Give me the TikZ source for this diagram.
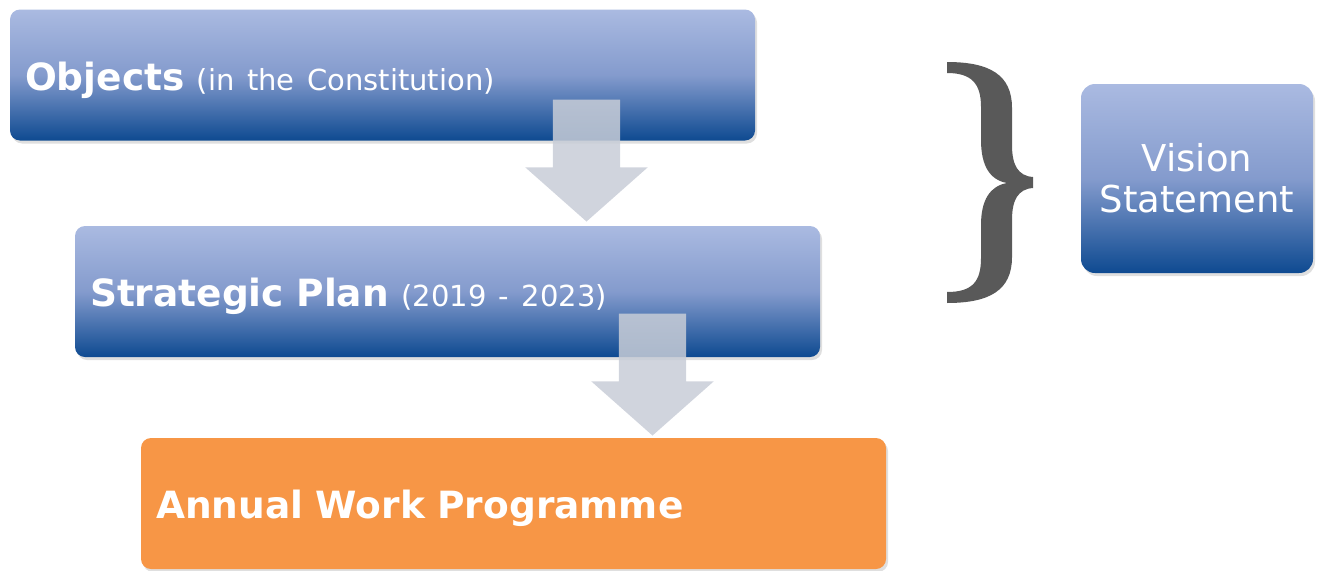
\documentclass[tikz,border=0pt]{standalone}
\usepackage{fontspec}
\setmainfont{DejaVu Sans}
\usepackage{tikz}
\usetikzlibrary{positioning, shapes.arrows, shadows}
\definecolor{BoxTop}{RGB}{170,186,225}
\definecolor{BoxMid}{RGB}{132,155,205}
\definecolor{BoxBottom}{RGB}{14,74,145}
\definecolor{WorkColor}{RGB}{247,150,70}
\definecolor{FlowColor}{RGB}{200,205,215}
\definecolor{BraceColor}{RGB}{89,89,89}
\newcommand{\subtext}[1]{{\fontsize{29}{34}\selectfont #1}}
\tikzstyle{boxshadow} = [drop shadow={opacity=0.25, shadow xshift=2pt, shadow yshift=-3pt}]
\tikzset{
  stage/.style={rectangle, rounded corners=10pt, minimum width=745pt, minimum height=131pt, text width=715pt, inner xsep=15pt, text height=30pt, text depth=0pt, align=left, text=white, font=\fontsize{37.5}{42}\selectfont, boxshadow},
  blue stage/.style={stage, top color=BoxTop, bottom color=BoxBottom, middle color=BoxMid},
  work stage/.style={stage, fill=WorkColor},
  vision/.style={rectangle, rounded corners=14pt, minimum width=232pt, minimum height=189pt, align=center, text=white, font=\fontsize{37}{41}\selectfont, top color=BoxTop, bottom color=BoxBottom, middle color=BoxMid, boxshadow},
  flow/.style={single arrow, rotate=-90, minimum height=122pt, inner xsep=0pt, inner ysep=33.5pt, single arrow head extend=27.5pt, single arrow tip angle=97, fill=FlowColor, fill opacity=0.85, draw=none}
}
\begin{document}
\begin{tikzpicture}[x=1pt, y=-1pt]
            \useasboundingbox (0,0) rectangle (1319,570);

            % Stages
            \node[blue stage] (objects) at (382.5,75) {\textbf{Objects} \subtext{(in the Constitution)}};
            \node[blue stage] (plan) at (447.5,291.5) {\textbf{Strategic Plan} \subtext{(2019 - 2023)}};
            \node[work stage] (work) at (513.5,503.5) {\textbf{Annual Work Programme}};

            % Flow arrows
            \node[flow, anchor=tip] (flowA) at ([xshift=139pt, yshift=4pt]plan.north) {};
            \node[flow, anchor=tip] (flowB) at ([xshift=139pt, yshift=2pt]work.north) {};

            % Brace
            \fill[BraceColor] (947,62) .. controls (990,62) and (1012,75) .. (1012,108)
                -- (1012,145) .. controls (1012,165) and (1018,176) .. (1033,177)
                -- (1033,188) .. controls (1018,189) and (1012,200) .. (1012,220)
                -- (1012,257) .. controls (1012,290) and (990,303) .. (947,303)
                -- (947,292) .. controls (972,292) and (981,282) .. (981,258)
                -- (981,225) .. controls (981,200) and (990,186) .. (1007,183)
                .. controls (990,180) and (981,166) .. (981,140)
                -- (981,107) .. controls (981,84) and (972,73) .. (947,73) -- cycle;

            % Vision
            \node[vision] (visionbox) at (1197,178.5) {Vision\\Statement};
        \end{tikzpicture}
\end{document}
